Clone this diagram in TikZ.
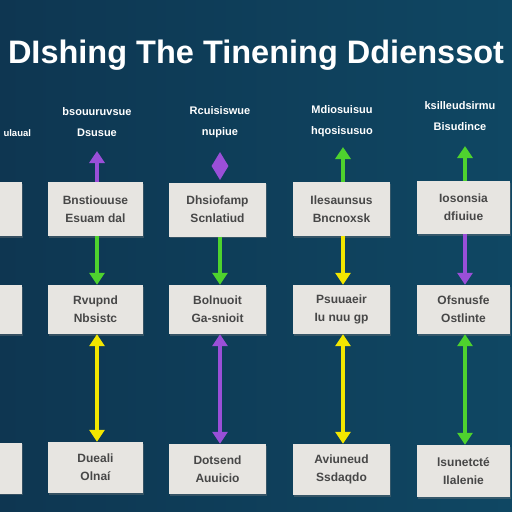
\documentclass[tikz,border=0pt]{standalone}
\usepackage{fontspec}
\setmainfont{Liberation Sans}
\usetikzlibrary{arrows.meta,shapes.geometric,shadows}
\definecolor{bgL}{HTML}{0E3651}
\definecolor{bgR}{HTML}{0F4763}
\definecolor{boxfill}{HTML}{E7E5E1}
\definecolor{boxtext}{HTML}{474747}
\definecolor{apurple}{HTML}{9A4FD8}
\definecolor{agreen}{HTML}{4ED22E}
\definecolor{ayellow}{HTML}{F2E600}
\tikzset{
  box/.style={fill=boxfill, draw=none, align=center, text=boxtext,
    font=\fontsize{12}{18}\selectfont\bfseries,
    drop shadow={shadow xshift=1pt, shadow yshift=-1.5pt, opacity=0.35}},
  hdr/.style={text=white, align=center, font=\fontsize{11}{21}\selectfont\bfseries},
  conn/.style={line width=4.5pt, -{Triangle[width=15pt,length=12pt]}},
  dconn/.style={line width=4.5pt, {Triangle[width=15pt,length=12pt]}-{Triangle[width=15pt,length=12pt]}},
}
\begin{document}
\begin{tikzpicture}[x=1pt,y=-1pt]
\useasboundingbox (0,0) rectangle (512,512);
\shade[left color=bgL, right color=bgR] (0,0) rectangle (512,512);
% title
\node[text=white, font=\fontsize{32.5}{33}\selectfont\bfseries, inner sep=0pt] (title) at (256,55) {DIshing The Tinening Ddienssot};
% headers
\node[hdr, anchor=west, font=\fontsize{9.5}{21}\selectfont\bfseries] (h0) at (0,133) {ulaual};
\node[hdr] (h1) at (97,122) {bsouuruvsue\\Dsusue};
\node[hdr] (h2) at (220,122) {Rcuisiswue\\nupiue};
\node[hdr] (h3) at (342,121) {Mdiosuisuu\\hqosisusuo};
\node[hdr] (h4) at (460,116) {ksilleudsirmu\\Bisudince};
% partial boxes
\node[box, minimum width=34pt, minimum height=54pt] (p1) at (5,209) {};
\node[box, minimum width=34pt, minimum height=49pt] (p2) at (5,309.5) {};
\node[box, minimum width=34pt, minimum height=51pt] (p3) at (5,468) {};
% row 1
\node[box, minimum width=95pt, minimum height=54pt] (b11) at (95.5,209) {Bnstiouuse\\Esuam dal};
\node[box, minimum width=97pt, minimum height=54pt] (b12) at (217.5,209.5) {Dhsiofamp\\Scnlatiud};
\node[box, minimum width=97pt, minimum height=54pt] (b13) at (341.5,209) {Ilesaunsus\\Bncnoxsk};
\node[box, minimum width=93pt, minimum height=53pt] (b14) at (463.5,207.5) {Iosonsia\\dfiuiue};
% row 2
\node[box, minimum width=95pt, minimum height=49pt] (b21) at (95.5,309.5) {Rvupnd\\Nbsistc};
\node[box, minimum width=97pt, minimum height=49pt] (b22) at (217.5,309.5) {Bolnuoit\\Ga-snioit};
\node[box, minimum width=97pt, minimum height=49pt] (b23) at (341.5,309.5) {Psuuaeir\\Iu nuu gp};
\node[box, minimum width=93pt, minimum height=49pt] (b24) at (463.5,309.5) {Ofsnusfe\\Ostlinte};
% row 3
\node[box, minimum width=95pt, minimum height=51pt] (b31) at (95.5,467.5) {Dueali\\Olnaí};
\node[box, minimum width=97pt, minimum height=50pt] (b32) at (217.5,469) {Dotsend\\Auuicio};
\node[box, minimum width=97pt, minimum height=51pt] (b33) at (341.5,469.5) {Aviuneud\\Ssdaqdo};
\node[box, minimum width=93pt, minimum height=52pt] (b34) at (463.5,471) {lsunetcté\\Ilalenie};
% top markers
\coordinate (t1) at (97,151);
\coordinate (t3) at (343,147);
\coordinate (t4) at (465,146);
\draw[conn, apurple] (b11.north -| t1) -- (t1);
\node[diamond, fill=apurple, minimum width=17pt, minimum height=28pt, inner sep=0pt] (d2) at (220,166) {};
\draw[conn, agreen] (b13.north -| t3) -- (t3);
\draw[conn, agreen] (b14.north -| t4) -- (t4);
% row1 -> row2
\draw[conn, agreen] (b11.south -| t1) -- (b21.north -| t1);
\draw[conn, agreen] (b12.south -| d2) -- (b22.north -| d2);
\draw[conn, ayellow] (b13.south -| t3) -- (b23.north -| t3);
\draw[conn, apurple] (b14.south -| t4) -- (b24.north -| t4);
% row2 <-> row3
\draw[dconn, ayellow] (b21.south -| t1) -- (b31.north -| t1);
\draw[dconn, apurple] (b22.south -| d2) -- (b32.north -| d2);
\draw[dconn, ayellow] (b23.south -| t3) -- (b33.north -| t3);
\draw[dconn, agreen] (b24.south -| t4) -- (b34.north -| t4);
\end{tikzpicture}
\end{document}
